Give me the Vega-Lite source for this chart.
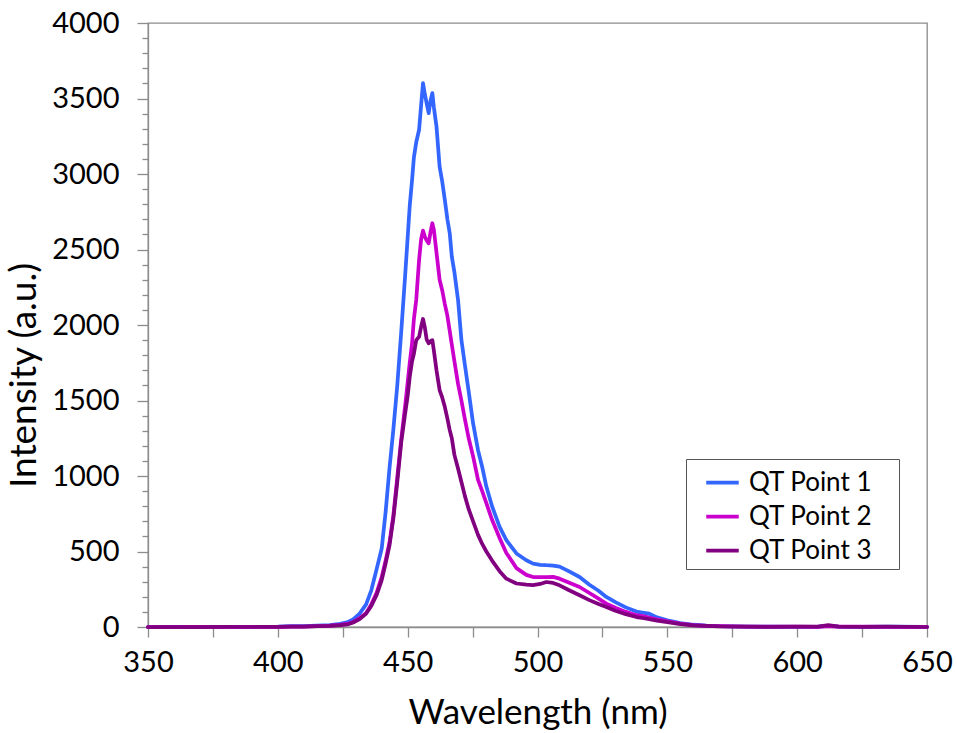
{
  "$schema": "https://vega.github.io/schema/vega-lite/v6.json",
  "width": 779,
  "height": 604,
  "autosize": {"type": "none"},
  "padding": {"left": 148, "top": 23, "right": 30, "bottom": 106},
  "background": "white",
  "config": {
    "font": "Lato",
    "view": {"stroke": "#8c8c8c", "strokeWidth": 1.3}
  },
  "data": {
    "values": [
      {"wl": 350, "QT Point 1": 0, "QT Point 2": 0, "QT Point 3": 0},
      {"wl": 360, "QT Point 1": 1, "QT Point 2": 0, "QT Point 3": 0},
      {"wl": 370, "QT Point 1": 0, "QT Point 2": 1, "QT Point 3": 0},
      {"wl": 380, "QT Point 1": 1, "QT Point 2": 0, "QT Point 3": 1},
      {"wl": 390, "QT Point 1": 0, "QT Point 2": 1, "QT Point 3": 0},
      {"wl": 400, "QT Point 1": 2, "QT Point 2": 1, "QT Point 3": 1},
      {"wl": 405, "QT Point 1": 5, "QT Point 2": 2, "QT Point 3": 2},
      {"wl": 410, "QT Point 1": 6, "QT Point 2": 3, "QT Point 3": 3},
      {"wl": 415, "QT Point 1": 9, "QT Point 2": 5, "QT Point 3": 5},
      {"wl": 420, "QT Point 1": 13, "QT Point 2": 9, "QT Point 3": 8},
      {"wl": 424, "QT Point 1": 21, "QT Point 2": 14, "QT Point 3": 12},
      {"wl": 427, "QT Point 1": 33, "QT Point 2": 22, "QT Point 3": 18},
      {"wl": 429, "QT Point 1": 50, "QT Point 2": 33, "QT Point 3": 30},
      {"wl": 431.5, "QT Point 1": 89, "QT Point 2": 58, "QT Point 3": 52},
      {"wl": 434, "QT Point 1": 150, "QT Point 2": 92, "QT Point 3": 89},
      {"wl": 436, "QT Point 1": 243, "QT Point 2": 150, "QT Point 3": 140},
      {"wl": 438, "QT Point 1": 380, "QT Point 2": 225, "QT Point 3": 210},
      {"wl": 440, "QT Point 1": 520, "QT Point 2": 330, "QT Point 3": 310},
      {"wl": 441.5, "QT Point 1": 760, "QT Point 2": 440, "QT Point 3": 420},
      {"wl": 443, "QT Point 1": 1050, "QT Point 2": 560, "QT Point 3": 540},
      {"wl": 444.5, "QT Point 1": 1310, "QT Point 2": 740, "QT Point 3": 720},
      {"wl": 446, "QT Point 1": 1600, "QT Point 2": 990, "QT Point 3": 960},
      {"wl": 447.5, "QT Point 1": 1950, "QT Point 2": 1240, "QT Point 3": 1220},
      {"wl": 449, "QT Point 1": 2320, "QT Point 2": 1460, "QT Point 3": 1410},
      {"wl": 450, "QT Point 1": 2580, "QT Point 2": 1620, "QT Point 3": 1530},
      {"wl": 450.8, "QT Point 1": 2790, "QT Point 2": 1750, "QT Point 3": 1657},
      {"wl": 451.7, "QT Point 1": 2961, "QT Point 2": 1880, "QT Point 3": 1760},
      {"wl": 452.4, "QT Point 1": 3110, "QT Point 2": 2040, "QT Point 3": 1810},
      {"wl": 453.3, "QT Point 1": 3210, "QT Point 2": 2166, "QT Point 3": 1900},
      {"wl": 454.4, "QT Point 1": 3293, "QT Point 2": 2431, "QT Point 3": 1922},
      {"wl": 455.2, "QT Point 1": 3460, "QT Point 2": 2570, "QT Point 3": 1990},
      {"wl": 455.9, "QT Point 1": 3602, "QT Point 2": 2625, "QT Point 3": 2040},
      {"wl": 456.6, "QT Point 1": 3530, "QT Point 2": 2585, "QT Point 3": 1985},
      {"wl": 457.3, "QT Point 1": 3470, "QT Point 2": 2560, "QT Point 3": 1905},
      {"wl": 458.1, "QT Point 1": 3403, "QT Point 2": 2541, "QT Point 3": 1879},
      {"wl": 458.8, "QT Point 1": 3485, "QT Point 2": 2615, "QT Point 3": 1893},
      {"wl": 459.5, "QT Point 1": 3536, "QT Point 2": 2674, "QT Point 3": 1900},
      {"wl": 460.1, "QT Point 1": 3440, "QT Point 2": 2630, "QT Point 3": 1830},
      {"wl": 461.1, "QT Point 1": 3315, "QT Point 2": 2480, "QT Point 3": 1700},
      {"wl": 462.3, "QT Point 1": 3049, "QT Point 2": 2300, "QT Point 3": 1569},
      {"wl": 463.3, "QT Point 1": 2950, "QT Point 2": 2230, "QT Point 3": 1520},
      {"wl": 464.3, "QT Point 1": 2829, "QT Point 2": 2140, "QT Point 3": 1458},
      {"wl": 465.3, "QT Point 1": 2700, "QT Point 2": 2060, "QT Point 3": 1380},
      {"wl": 466.2, "QT Point 1": 2608, "QT Point 2": 1960, "QT Point 3": 1304},
      {"wl": 467, "QT Point 1": 2453, "QT Point 2": 1870, "QT Point 3": 1250},
      {"wl": 468, "QT Point 1": 2350, "QT Point 2": 1760, "QT Point 3": 1140},
      {"wl": 469.4, "QT Point 1": 2166, "QT Point 2": 1610, "QT Point 3": 1050},
      {"wl": 470.7, "QT Point 1": 1900, "QT Point 2": 1500, "QT Point 3": 960},
      {"wl": 472, "QT Point 1": 1740, "QT Point 2": 1380, "QT Point 3": 870},
      {"wl": 473.5, "QT Point 1": 1560, "QT Point 2": 1250, "QT Point 3": 780},
      {"wl": 475.2, "QT Point 1": 1348, "QT Point 2": 1130, "QT Point 3": 700},
      {"wl": 477.1, "QT Point 1": 1171, "QT Point 2": 975, "QT Point 3": 610},
      {"wl": 478.7, "QT Point 1": 1060, "QT Point 2": 900, "QT Point 3": 550},
      {"wl": 480.3, "QT Point 1": 930, "QT Point 2": 820, "QT Point 3": 500},
      {"wl": 482.5, "QT Point 1": 800, "QT Point 2": 710, "QT Point 3": 440},
      {"wl": 485.4, "QT Point 1": 663, "QT Point 2": 590, "QT Point 3": 370},
      {"wl": 488, "QT Point 1": 575, "QT Point 2": 490, "QT Point 3": 320},
      {"wl": 491.9, "QT Point 1": 487, "QT Point 2": 390, "QT Point 3": 288},
      {"wl": 495.7, "QT Point 1": 442, "QT Point 2": 345, "QT Point 3": 280},
      {"wl": 498.3, "QT Point 1": 420, "QT Point 2": 331, "QT Point 3": 278},
      {"wl": 501, "QT Point 1": 412, "QT Point 2": 330, "QT Point 3": 285},
      {"wl": 503.4, "QT Point 1": 409, "QT Point 2": 331, "QT Point 3": 298},
      {"wl": 506, "QT Point 1": 407, "QT Point 2": 332, "QT Point 3": 292},
      {"wl": 508.5, "QT Point 1": 400, "QT Point 2": 320, "QT Point 3": 276},
      {"wl": 512, "QT Point 1": 370, "QT Point 2": 295, "QT Point 3": 245},
      {"wl": 516.2, "QT Point 1": 331, "QT Point 2": 265, "QT Point 3": 210},
      {"wl": 520, "QT Point 1": 280, "QT Point 2": 225, "QT Point 3": 178},
      {"wl": 523.5, "QT Point 1": 240, "QT Point 2": 188, "QT Point 3": 152},
      {"wl": 526.5, "QT Point 1": 199, "QT Point 2": 155, "QT Point 3": 133},
      {"wl": 530, "QT Point 1": 165, "QT Point 2": 128, "QT Point 3": 108},
      {"wl": 534, "QT Point 1": 130, "QT Point 2": 100, "QT Point 3": 85},
      {"wl": 538.1, "QT Point 1": 102, "QT Point 2": 78, "QT Point 3": 66},
      {"wl": 541, "QT Point 1": 94, "QT Point 2": 70, "QT Point 3": 58},
      {"wl": 543, "QT Point 1": 88, "QT Point 2": 63, "QT Point 3": 52},
      {"wl": 546, "QT Point 1": 64, "QT Point 2": 50, "QT Point 3": 42},
      {"wl": 550, "QT Point 1": 44, "QT Point 2": 38, "QT Point 3": 32},
      {"wl": 555, "QT Point 1": 26, "QT Point 2": 23, "QT Point 3": 19},
      {"wl": 560, "QT Point 1": 15, "QT Point 2": 13, "QT Point 3": 11},
      {"wl": 565, "QT Point 1": 9, "QT Point 2": 8, "QT Point 3": 7},
      {"wl": 570, "QT Point 1": 5, "QT Point 2": 5, "QT Point 3": 4},
      {"wl": 580, "QT Point 1": 3, "QT Point 2": 2, "QT Point 3": 2},
      {"wl": 590, "QT Point 1": 2, "QT Point 2": 3, "QT Point 3": 1},
      {"wl": 600, "QT Point 1": 1, "QT Point 2": 2, "QT Point 3": 2},
      {"wl": 608, "QT Point 1": 2, "QT Point 2": 1, "QT Point 3": 3},
      {"wl": 612, "QT Point 1": 8, "QT Point 2": 6, "QT Point 3": 13},
      {"wl": 616, "QT Point 1": 2, "QT Point 2": 2, "QT Point 3": 3},
      {"wl": 625, "QT Point 1": 1, "QT Point 2": 2, "QT Point 3": 1},
      {"wl": 635, "QT Point 1": 2, "QT Point 2": 1, "QT Point 3": 2},
      {"wl": 650, "QT Point 1": 1, "QT Point 2": 1, "QT Point 3": 0}
    ]
  },
  "transform": [
    {"fold": ["QT Point 1", "QT Point 2", "QT Point 3"], "as": ["series", "intensity"]}
  ],
  "mark": {"type": "line", "strokeWidth": 3.75, "strokeJoin": "round", "strokeCap": "round"},
  "encoding": {
    "x": {
      "field": "wl",
      "type": "quantitative",
      "scale": {"domain": [350, 650], "nice": false, "zero": false},
      "axis": {
        "title": "Wavelength (nm)",
        "values": [350, 375, 400, 425, 450, 475, 500, 525, 550, 575, 600, 625, 650],
        "format": "d",
        "labelExpr": "datum.value % 50 === 0 ? datum.label : ''",
        "grid": false,
        "domainColor": "#8c8c8c",
        "domainWidth": 1.3,
        "tickColor": "#8c8c8c",
        "tickWidth": 1.3,
        "tickSize": 10,
        "labelFont": "Lato",
        "labelFontSize": 29,
        "labelColor": "#000000",
        "labelPadding": 11,
        "labelFlush": false,
        "labelOverlap": false,
        "titleFont": "Lato",
        "titleFontSize": 35,
        "titleFontWeight": "normal",
        "titleColor": "#000000",
        "titlePadding": 18
      }
    },
    "y": {
      "field": "intensity",
      "type": "quantitative",
      "scale": {"domain": [0, 4000], "nice": false},
      "axis": {
        "title": "Intensity (a.u.)",
        "titleY": 352,
        "values": [0, 100, 200, 300, 400, 500, 600, 700, 800, 900, 1000, 1100, 1200, 1300, 1400, 1500, 1600, 1700, 1800, 1900, 2000, 2100, 2200, 2300, 2400, 2500, 2600, 2700, 2800, 2900, 3000, 3100, 3200, 3300, 3400, 3500, 3600, 3700, 3800, 3900, 4000],
        "format": "d",
        "labelExpr": "datum.value % 500 === 0 ? datum.label : ''",
        "grid": false,
        "domainColor": "#8c8c8c",
        "domainWidth": 1.3,
        "tickColor": "#8c8c8c",
        "tickWidth": 1.3,
        "tickSize": {"condition": {"test": "datum.value % 500 === 0", "value": 11}, "value": 6},
        "labelFont": "Lato",
        "labelFontSize": 29,
        "labelColor": "#000000",
        "labelPadding": 18,
        "labelFlush": false,
        "labelOverlap": false,
        "titleFont": "Lato",
        "titleFontSize": 37,
        "titleFontWeight": "normal",
        "titleColor": "#000000",
        "titlePadding": 8
      }
    },
    "color": {
      "field": "series",
      "type": "nominal",
      "scale": {
        "domain": ["QT Point 1", "QT Point 2", "QT Point 3"],
        "range": ["#3366ff", "#cc00cc", "#800080"]
      },
      "legend": {
        "orient": "none",
        "legendX": 538,
        "legendY": 436,
        "title": " ",
        "titleOrient": "right",
        "titleFontSize": 10,
        "titlePadding": 22,
        "symbolType": "stroke",
        "symbolSize": 1056,
        "symbolStrokeWidth": 3.75,
        "symbolOffset": 13,
        "labelOffset": 8,
        "labelFont": "Lato",
        "labelFontSize": 26,
        "labelColor": "#000000",
        "rowPadding": 2,
        "padding": 5,
        "strokeColor": "#555555",
        "fillColor": "#ffffff"
      }
    }
  }
}
